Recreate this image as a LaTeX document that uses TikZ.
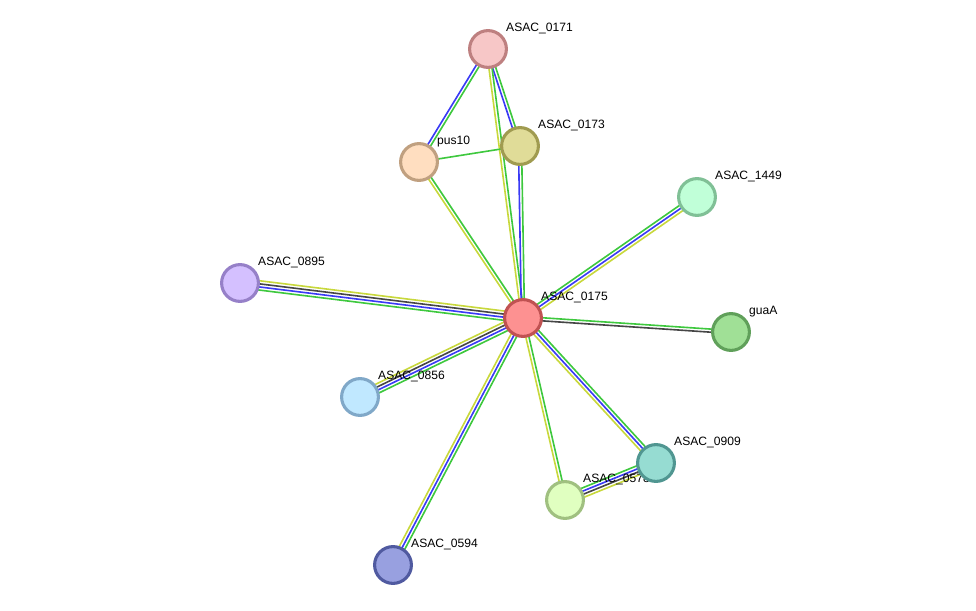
\documentclass[tikz,border=0pt]{standalone}
\usepackage{fontspec}
\setmainfont{Liberation Sans}
\usetikzlibrary{calc, backgrounds}

\definecolor{egreen}{RGB}{62,200,62}
\definecolor{eblue}{RGB}{58,58,245}
\definecolor{eyellow}{RGB}{200,216,60}
\definecolor{eblack}{RGB}{70,70,70}
% protein fill / border colours
\definecolor{f0175}{RGB}{253,145,145}\definecolor{d0175}{RGB}{192,82,82}
\definecolor{f0171}{RGB}{247,199,199}\definecolor{d0171}{RGB}{190,128,128}
\definecolor{f0173}{RGB}{224,220,152}\definecolor{d0173}{RGB}{160,155,80}
\definecolor{fpus}{RGB}{255,222,192}\definecolor{dpus}{RGB}{192,160,128}
\definecolor{f1449}{RGB}{192,255,216}\definecolor{d1449}{RGB}{128,192,150}
\definecolor{f0895}{RGB}{212,192,255}\definecolor{d0895}{RGB}{150,128,200}
\definecolor{fgua}{RGB}{160,224,150}\definecolor{dgua}{RGB}{96,160,90}
\definecolor{f0856}{RGB}{192,232,255}\definecolor{d0856}{RGB}{128,168,200}
\definecolor{f0578}{RGB}{224,255,192}\definecolor{d0578}{RGB}{160,192,128}
\definecolor{f0909}{RGB}{150,220,210}\definecolor{d0909}{RGB}{80,150,145}
\definecolor{f0594}{RGB}{152,160,224}\definecolor{d0594}{RGB}{80,90,160}

% parallel lines between two proteins, one per evidence colour
\newcommand{\lnk}[3]{%
  \foreach \c [count=\k] in {#3}{\xdef\lnkn{\k}}%
  \foreach \c [count=\k] in {#3}{%
    \pgfmathsetmacro\off{(\k-(\lnkn+1)/2)*2.2}%
    \draw[edge, \c] ($(#1)!\off pt!90:(#2)$) -- ($(#2)!\off pt!-90:(#1)$);
  }}

\begin{document}
\begin{tikzpicture}[
    x=0.025cm, y=-0.025cm,
    every node/.style={font=\fontsize{8.6}{10}\selectfont},
    prot/.style 2 args={circle, draw=#2, fill=#1, line width=2.2pt,
                        minimum size=0.92cm, inner sep=0pt},
    lbl/.style={anchor=west, inner sep=0pt, yshift=0.52cm, xshift=-0.05cm},
    tag/.style={label={[lbl]right:#1}},
    edge/.style={line width=1.15pt},
  ]
    \useasboundingbox (0,0) rectangle (976,611);
    \node[prot={f0175}{d0175}, tag=ASAC\_0175] (p0175) at (523,318) {};
    \node[prot={f0171}{d0171}, tag=ASAC\_0171] (p0171) at (488,49) {};
    \node[prot={f0173}{d0173}, tag=ASAC\_0173] (p0173) at (520,146) {};
    \node[prot={fpus}{dpus}, tag=pus10] (pus10) at (419,162) {};
    \node[prot={f1449}{d1449}, tag=ASAC\_1449] (p1449) at (697,197) {};
    \node[prot={f0895}{d0895}, tag=ASAC\_0895] (p0895) at (240,283) {};
    \node[prot={fgua}{dgua}, tag=guaA] (guaA) at (731,332) {};
    \node[prot={f0856}{d0856}, tag=ASAC\_0856] (p0856) at (360,397) {};
    \node[prot={f0578}{d0578}, tag=ASAC\_0578] (p0578) at (565,500) {};
    \node[prot={f0909}{d0909}, tag=ASAC\_0909] (p0909) at (656,463) {};
    \node[prot={f0594}{d0594}, tag=ASAC\_0594] (p0594) at (393,565) {};
    \begin{scope}[on background layer]
      \lnk{p0171}{pus10}{eblue, egreen}
      \lnk{p0171}{p0173}{eblue, egreen}
      \lnk{p0171}{p0175}{eyellow, egreen}
      \lnk{pus10}{p0173}{egreen}
      \lnk{pus10}{p0175}{eyellow, egreen}
      \lnk{p0173}{p0175}{eblue, egreen}
      \lnk{p0175}{p1449}{eyellow, eblue, egreen}
      \lnk{p0895}{p0175}{egreen, eblue, eblack, eyellow}
      \lnk{p0175}{guaA}{eblack, egreen}
      \lnk{p0856}{p0175}{egreen, eblue, eblack, eyellow}
      \lnk{p0594}{p0175}{egreen, eblue, eyellow}
      \lnk{p0175}{p0578}{eyellow, egreen}
      \lnk{p0175}{p0909}{eyellow, eblue, egreen}
      \lnk{p0578}{p0909}{eyellow, eblack, eblue, egreen}
    \end{scope}
\end{tikzpicture}
\end{document}
